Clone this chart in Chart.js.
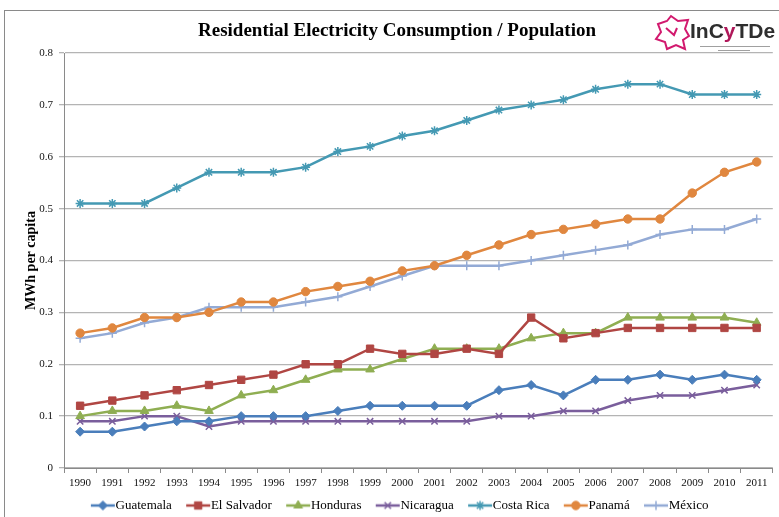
<!DOCTYPE html>
<html>
<head>
<meta charset="utf-8">
<script src="https://cdn.jsdelivr.net/npm/chart.js@4.4.1/dist/chart.umd.min.js"></script>
<style>
  html, body { margin: 0; padding: 0; background: #fff; }
  canvas { display: block; }
</style>
</head>
<body>
<canvas id="chart" width="779" height="517"></canvas>
<script>
// datos
const years = ["1990","1991","1992","1993","1994","1995","1996","1997","1998","1999","2000",
               "2001","2002","2003","2004","2005","2006","2007","2008","2009","2010","2011"];
const guatemala  = [0.07,0.07,0.08,0.09,0.09,0.10,0.10,0.10,0.11,0.12,0.12,0.12,0.12,0.15,0.16,0.14,0.17,0.17,0.18,0.17,0.18,0.17];
const elSalvador = [0.12,0.13,0.14,0.15,0.16,0.17,0.18,0.20,0.20,0.23,0.22,0.22,0.23,0.22,0.29,0.25,0.26,0.27,0.27,0.27,0.27,0.27];
const honduras   = [0.10,0.11,0.11,0.12,0.11,0.14,0.15,0.17,0.19,0.19,0.21,0.23,0.23,0.23,0.25,0.26,0.26,0.29,0.29,0.29,0.29,0.28];
const nicaragua  = [0.09,0.09,0.10,0.10,0.08,0.09,0.09,0.09,0.09,0.09,0.09,0.09,0.09,0.10,0.10,0.11,0.11,0.13,0.14,0.14,0.15,0.16];
const costaRica  = [0.51,0.51,0.51,0.54,0.57,0.57,0.57,0.58,0.61,0.62,0.64,0.65,0.67,0.69,0.70,0.71,0.73,0.74,0.74,0.72,0.72,0.72];
const panama     = [0.26,0.27,0.29,0.29,0.30,0.32,0.32,0.34,0.35,0.36,0.38,0.39,0.41,0.43,0.45,0.46,0.47,0.48,0.48,0.53,0.57,0.59];
const mexico     = [0.25,0.26,0.28,0.29,0.31,0.31,0.31,0.32,0.33,0.35,0.37,0.39,0.39,0.39,0.40,0.41,0.42,0.43,0.45,0.46,0.46,0.48];
const seriesNames = ["Guatemala","El Salvador","Honduras","Nicaragua","Costa Rica","Panamá","México"];
const yTicks = [0,0.1,0.2,0.3,0.4,0.5,0.6,0.7,0.8];

const chartTitle = "Residential Electricity Consumption / Population";
const yTitle = "MWh per capita";

const serif = "'Liberation Serif', 'Times New Roman', serif";

// estilo de cada serie
function serie(label, data, color, style, radius, bw) {
    return {
        label: label,
        data: data,
        borderColor: color,
        backgroundColor: color,
        borderWidth: 2.5,
        pointStyle: style,
        pointRadius: radius,
        pointHoverRadius: radius,
        pointBorderWidth: bw,
        pointBackgroundColor: color,
        pointBorderColor: color,
        tension: 0
    };
}

const datasets = [
    serie(seriesNames[0], guatemala,  '#4A7EBB', 'rectRot',  4.5, 1),
    serie(seriesNames[1], elSalvador, '#B04643', 'rect',     5.2, 1),
    serie(seriesNames[2], honduras,   '#8FAE52', 'triangle', 5,   1),
    serie(seriesNames[3], nicaragua,  '#7A5E9C', 'crossRot', 4.5, 1.5),
    serie(seriesNames[4], costaRica,  '#4499B3', 'star',     4.5, 1.5),
    serie(seriesNames[5], panama,     '#E0873F', 'circle',   4.2, 1),
    serie(seriesNames[6], mexico,     '#93AAD5', 'cross',    4.5, 1.5)
];

// imagen de leyenda: linea con marcador (la linea queda pegada al texto)
function legendImage(ds) {
    const c = document.createElement('canvas');
    c.width = 40; c.height = 12;
    const g = c.getContext('2d');
    g.strokeStyle = ds.borderColor;
    g.lineWidth = 2.5;
    g.beginPath(); g.moveTo(15, 6); g.lineTo(39, 6); g.stroke();
    g.fillStyle = ds.backgroundColor;
    g.lineWidth = ds.pointBorderWidth;
    Chart.helpers.drawPoint(g, {pointStyle: ds.pointStyle, radius: ds.pointRadius, rotation: 0, borderWidth: ds.pointBorderWidth}, 27, 6);
    return c;
}

// marco, titulo y logo
const decor = {
    id: 'decor',
    beforeDraw(chart) {
        const ctx = chart.ctx;
        ctx.save();
        ctx.fillStyle = '#fff';
        ctx.fillRect(0, 0, chart.width, chart.height);
        ctx.strokeStyle = '#8a8a8a';
        ctx.lineWidth = 1;
        ctx.strokeRect(4.5, 10.5, chart.width + 10, chart.height + 10);
        ctx.restore();
    },
    afterDraw(chart) {
        const ctx = chart.ctx;
        ctx.save();
        ctx.fillStyle = '#000';
        ctx.font = "bold 19px " + serif;
        ctx.textAlign = 'center';
        ctx.textBaseline = 'middle';
        ctx.fillText(chartTitle, 397, 31);

        // logo InCyTDe
        ctx.strokeStyle = '#D2196E';
        ctx.lineWidth = 2;
        ctx.beginPath();
        const pts = [[658,24],[667,21],[671,16],[678,21],[688,20],[685,29],[689,36],[683,40],[685,49],[676,45],[667,49],[665,42],[656,39],[661,32]];
        pts.forEach((p, i) => i ? ctx.lineTo(p[0], p[1]) : ctx.moveTo(p[0], p[1]));
        ctx.closePath();
        ctx.stroke();
        ctx.beginPath();
        ctx.moveTo(666, 28); ctx.lineTo(674, 35); ctx.lineTo(677, 28);
        ctx.stroke();
        ctx.font = "bold 21px 'Liberation Sans', Arial, sans-serif";
        ctx.textAlign = 'left';
        let x = 690;
        [["InC", '#2e2e2e'], ["y", '#B0185A'], ["TDe", '#2e2e2e']].forEach(([t, col]) => {
            ctx.fillStyle = col;
            ctx.fillText(t, x, 32);
            x += ctx.measureText(t).width;
        });
        ctx.fillStyle = '#a0a0a0';
        ctx.fillRect(700, 46, 70, 1);
        ctx.fillRect(718, 50, 32, 1);
        ctx.restore();
    }
};

const ctx = document.getElementById('chart').getContext('2d');
const chart = new Chart(ctx, {
    type: 'line',
    data: { labels: years, datasets: datasets },
    options: {
        responsive: false,
        animation: false,
        layout: { padding: { top: 53, left: 14, right: 2, bottom: 0 } },
        plugins: {
            title: { display: false },
            tooltip: { enabled: false },
            legend: {
                position: 'bottom',
                maxHeight: 24,
                labels: {
                    usePointStyle: true,
                    pointStyleWidth: 26.5,
                    padding: 6,
                    color: '#000',
                    font: { family: serif, size: 13 },
                    generateLabels(chart) {
                        const items = Chart.defaults.plugins.legend.labels.generateLabels(chart);
                        items.forEach(it => { it.pointStyle = legendImage(chart.data.datasets[it.datasetIndex]); });
                        return items;
                    }
                }
            }
        },
        scales: {
            x: {
                offset: true,
                grid: { offset: true, drawOnChartArea: false, tickLength: 5, color: '#8a8a8a' },
                border: { color: '#8a8a8a' },
                ticks: { color: '#111', font: { family: serif, size: 11 }, padding: 4, maxRotation: 0, autoSkip: false },
                afterFit(scale) { scale.height = 25; }
            },
            y: {
                min: 0,
                max: 0.8,
                afterBuildTicks(scale) { scale.ticks = yTicks.map(v => ({ value: v })); },
                grid: { color: '#b4b4b4', lineWidth: 1.3, tickLength: 5 },
                border: { color: '#8a8a8a' },
                ticks: {
                    color: '#111',
                    font: { family: serif, size: 11 },
                    padding: 6,
                    callback: v => v === 0 ? '0' : v.toFixed(1)
                },
                title: {
                    display: true,
                    text: yTitle,
                    color: '#000',
                    font: { family: serif, size: 14, weight: 'bold' },
                    padding: { top: 9, bottom: 0 }
                },
                afterFit(scale) { scale.width = 50; }
            }
        }
    },
    plugins: [decor]
});
</script>
</body>
</html>
